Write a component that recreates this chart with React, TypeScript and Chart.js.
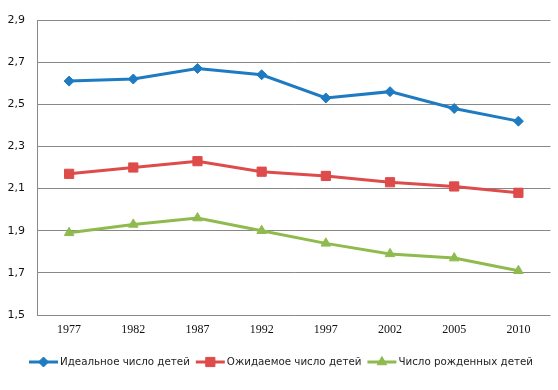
import React, { useEffect, useRef } from "react";
import { Chart, registerables } from "chart.js";
import { drawPoint } from "chart.js/helpers";

Chart.register(...registerables);

const years = ["1977", "1982", "1987", "1992", "1997", "2002", "2005", "2010"];
const idealChildren = [2.61, 2.62, 2.67, 2.64, 2.53, 2.56, 2.48, 2.42];
const expectedChildren = [2.17, 2.2, 2.23, 2.18, 2.16, 2.13, 2.11, 2.08];
const bornChildren = [1.89, 1.93, 1.96, 1.9, 1.84, 1.79, 1.77, 1.71];
const seriesNames = ["Идеальное число детей", "Ожидаемое число детей", "Число рожденных детей"];

const colors = ["#1F7BC1", "#DE4B4B", "#8FBB4E"];
const pointStyles = ["rectRot", "rect", "triangle"];
const pointRadii = [5, 6.5, 5.5];

const legendPlugin = {
  id: "bottomLineLegend",
  afterDraw(chart: any) {
    const ctx = chart.ctx;
    const y = 362;
    ctx.save();
    ctx.font = "10.3px 'DejaVu Sans'";
    const lineLen = 29;
    const gap = 2;
    const spacing = 6;
    const widths = chart.data.datasets.map((d: any) => lineLen + gap + ctx.measureText(d.label).width);
    const total = widths.reduce((a: number, b: number) => a + b, 0) + spacing * (widths.length - 1);
    let x = 25 + (512 - total) / 2;
    chart.data.datasets.forEach((d: any, i: number) => {
      ctx.strokeStyle = d.borderColor;
      ctx.lineWidth = 3;
      ctx.beginPath();
      ctx.moveTo(x, y);
      ctx.lineTo(x + lineLen, y);
      ctx.stroke();
      ctx.fillStyle = d.pointBackgroundColor;
      ctx.strokeStyle = d.pointBorderColor;
      ctx.lineWidth = 1;
      drawPoint(ctx, { pointStyle: d.pointStyle, radius: d.pointRadius, rotation: 0, borderWidth: 1 }, x + lineLen / 2, y);
      ctx.fillStyle = "#222";
      ctx.textBaseline = "middle";
      ctx.textAlign = "left";
      ctx.fillText(d.label, x + lineLen + gap, y);
      x += widths[i] + spacing;
    });
    ctx.restore();
  },
};

export default function App() {
  const ref = useRef<HTMLCanvasElement>(null);
  useEffect(() => {
    const values = [idealChildren, expectedChildren, bornChildren];
    const chart = new Chart(ref.current!, {
      type: "line",
      data: {
        labels: years,
        datasets: values.map((v, i) => ({
          label: seriesNames[i],
          data: v,
          borderColor: colors[i],
          backgroundColor: colors[i],
          pointBackgroundColor: colors[i],
          pointBorderColor: colors[i],
          pointStyle: pointStyles[i] as any,
          pointRadius: pointRadii[i],
          pointBorderWidth: 1,
          borderWidth: 3,
          tension: 0,
        })),
      },
      options: {
        animation: false,
        responsive: false,
        layout: { padding: { top: 20, right: 4, left: 0, bottom: 50 } },
        plugins: { legend: { display: false }, tooltip: { enabled: false } },
        scales: {
          x: {
            offset: true,
            grid: { display: false, drawTicks: false, offset: true },
            border: { display: false },
            ticks: {
              font: { family: "'Liberation Serif'", size: 12 },
              color: "#111",
              padding: 8,
              maxRotation: 0,
            },
            afterFit: (s: any) => {
              s.height = 25;
            },
          },
          y: {
            min: 1.5,
            max: 2.9,
            ticks: {
              stepSize: 0.2,
              font: { family: "'DejaVu Sans'", size: 11 },
              color: "#111",
              padding: 12,
              callback: (v: any) => Number(v).toFixed(1).replace(".", ","),
            },
            grid: { color: "#888888", lineWidth: 1, drawTicks: false },
            border: { display: true, color: "#888888", width: 1 },
            afterFit: (s: any) => {
              s.width = 37;
            },
          },
        },
      },
      plugins: [legendPlugin],
    });
    return () => chart.destroy();
  }, []);
  return (
    <div style={{ position: "fixed", left: 0, top: 0, width: 558, height: 390, background: "#fff" }}>
      <canvas ref={ref} width={558} height={390} />
    </div>
  );
}
